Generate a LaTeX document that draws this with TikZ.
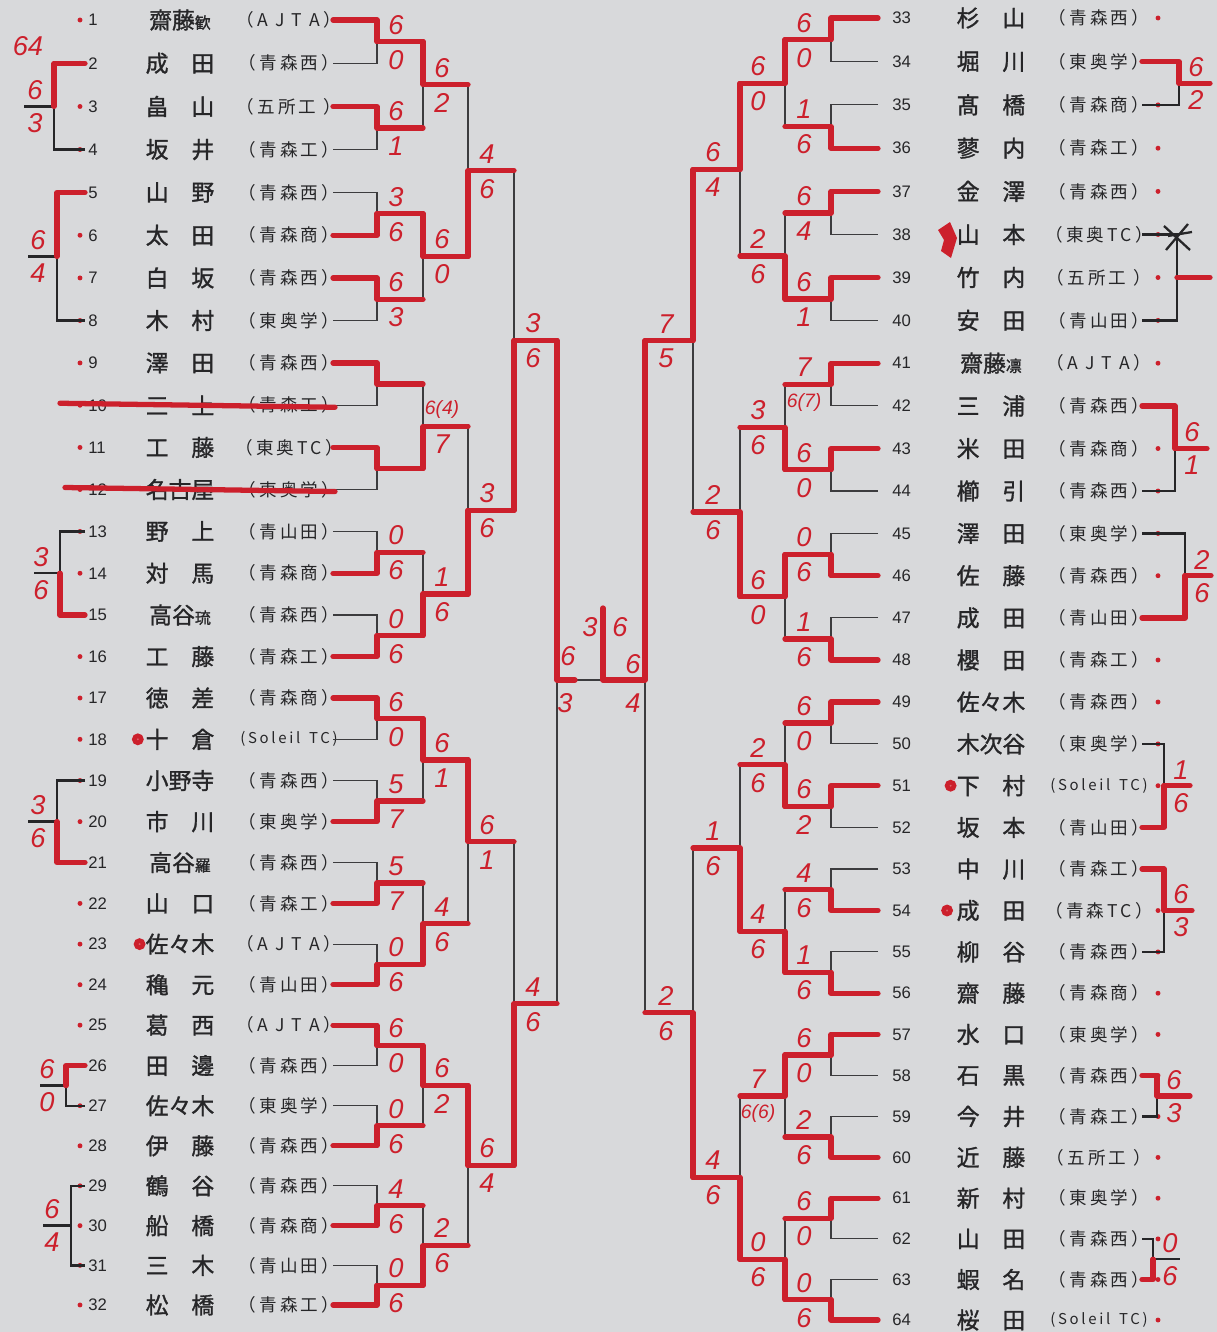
\documentclass[tikz,border=0pt]{standalone}
\usepackage{fontspec}
\usepackage{xcolor}
\usepackage{tikz}
\usetikzlibrary{positioning, calc}
\setmainfont{Liberation Sans}
\newfontfamily\jpfont[FakeBold=1.3]{Noto Sans CJK JP}
\newfontfamily\clubfont[LetterSpace=18]{Noto Sans CJK JP}
\definecolor{paper}{RGB}{216,217,219}
\definecolor{pen}{RGB}{204,32,44}
\definecolor{ink}{RGB}{38,38,40}
\definecolor{printgray}{RGB}{60,60,62}
\newcommand{\smk}[1]{{\fontsize{9}{9}\selectfont #1}}
\newcommand{\tb}[1]{{\fontsize{11}{11}\selectfont #1}}
\newcommand{\soleil}{{\fontsize{8.5}{8.5}\selectfont (Soleil\hspace{5pt}TC)}}
\tikzset{
  line/.style={draw=printgray, line width=0.6pt},
  win/.style={draw=pen, line width=3pt, line cap=round, line join=round},
  arm/.style={draw=ink, line width=1.3pt},
  strike/.style={draw=pen, line width=3pt, line cap=round},
  num/.style={font=\fontsize{9.5}{9.5}\selectfont, anchor=west, inner sep=0pt, text=ink},
  pname/.style={font=\jpfont\fontsize{13}{13}\selectfont, inner sep=0pt, text=ink},
  club/.style={font=\clubfont\fontsize{10}{10}\selectfont, inner sep=0pt, text=ink},
  sc/.style={font=\itshape\fontsize{15.5}{15.5}\selectfont, inner sep=0pt, text=pen},
  dot/.style={circle, fill=pen, inner sep=0pt, minimum size=2.8pt},
  ring/.style={circle, draw=pen, fill=pen!70, line width=2.6pt, inner sep=0pt, minimum size=4pt}
}

\begin{document}
\begin{tikzpicture}[x=0.02cm, y=-0.02cm]
  \fill[paper] (0,0) rectangle (1217,1332);
  \useasboundingbox (0,0) rectangle (1217,1332);

  % Left half: players 1-32
  \foreach \i/\nm/\cl in {1/齋藤\smk{歓}/（A J T A）, 2/成　田/（青森西）,
      3/畠　山/（五所工 ）, 4/坂　井/（青森工）, 5/山　野/（青森西）,
      6/太　田/（青森商）, 7/白　坂/（青森西）, 8/木　村/（東奥学）,
      9/澤　田/（青森西）, 10/三　上/（青森工）, 11/工　藤/（東奥TC）,
      12/名古屋/（東奥学）, 13/野　上/（青山田）, 14/対　馬/（青森商）,
      15/高谷\smk{琉}/（青森西）, 16/工　藤/（青森工）, 17/徳　差/（青森商）,
      18/十　倉/\soleil, 19/小野寺/（青森西）, 20/市　川/（東奥学）,
      21/高谷\smk{羅}/（青森西）, 22/山　口/（青森工）, 23/佐々木/（A J T A）,
      24/穐　元/（青山田）, 25/葛　西/（A J T A）, 26/田　邊/（青森西）,
      27/佐々木/（東奥学）, 28/伊　藤/（青森西）, 29/鶴　谷/（青森西）,
      30/船　橋/（青森商）, 31/三　木/（青山田）, 32/松　橋/（青森工）} {
    \pgfmathsetmacro{\yy}{20+43.36*(\i-1)-0.0616*(\i-1)*(\i-1)}
    \coordinate (L\i) at (333,\yy);
    \coordinate (aL\i) at (85,\yy);
    \node[dot] (Ldot\i) at (80,\yy) {};
    \node[num] (Lnum\i) at (88,\yy) {\i};
    \node[pname] (Lname\i) at (180,\yy) {\nm};
    \node[club] (Lclub\i) at (289,\yy) {\cl};
  }

  % Right half: players 33-64
  \foreach \i/\nm/\cl in {33/杉　山/（青森西）, 34/堀　川/（東奥学）,
      35/髙　橋/（青森商）, 36/蓼　内/（青森工）, 37/金　澤/（青森西）,
      38/山　本/（東奥TC）, 39/竹　内/（五所工 ）, 40/安　田/（青山田）,
      41/齋藤\smk{凛}/（A J T A）, 42/三　浦/（青森西）, 43/米　田/（青森商）,
      44/櫛　引/（青森西）, 45/澤　田/（東奥学）, 46/佐　藤/（青森西）,
      47/成　田/（青山田）, 48/櫻　田/（青森工）, 49/佐々木/（青森西）,
      50/木次谷/（東奥学）, 51/下　村/\soleil, 52/坂　本/（青山田）,
      53/中　川/（青森工）, 54/成　田/（青森TC）, 55/柳　谷/（青森西）,
      56/齋　藤/（青森商）, 57/水　口/（東奥学）, 58/石　黒/（青森西）,
      59/今　井/（青森工）, 60/近　藤/（五所工 ）, 61/新　村/（東奥学）,
      62/山　田/（青森西）, 63/蝦　名/（青森西）, 64/桜　田/\soleil} {
    \pgfmathsetmacro{\yy}{18+43.55*(\i-33)-0.05*(\i-33)*(\i-33)}
    \coordinate (R\i) at (878,\yy);
    \coordinate (aR\i) at (1142,\yy);
    \node[num] (Rnum\i) at (892,\yy) {\i};
    \node[pname] (Rname\i) at (991,\yy) {\nm};
    \node[club] (Rclub\i) at (1099,\yy) {\cl};
    \node[dot] (Rdot\i) at (1158,\yy) {};
  }

  % Bracket, left
  \foreach \k in {1,...,16} {
    \pgfmathtruncatemacro{\a}{2*\k-1}
    \pgfmathtruncatemacro{\b}{2*\k}
    \coordinate (La\k) at ($(L\a)!.5!(L\b)+(44,0)$);
    \draw[line] (L\a) -| (La\k) |- (L\b);
  }
  \foreach \k in {1,...,8} {
    \pgfmathtruncatemacro{\a}{2*\k-1}
    \pgfmathtruncatemacro{\b}{2*\k}
    \coordinate (Lb\k) at ($(La\a)!.5!(La\b)+(46,0)$);
    \draw[line] (La\a) -| (Lb\k) |- (La\b);
  }
  \foreach \k in {1,...,4} {
    \pgfmathtruncatemacro{\a}{2*\k-1}
    \pgfmathtruncatemacro{\b}{2*\k}
    \coordinate (Lc\k) at ($(Lb\a)!.5!(Lb\b)+(45,0)$);
    \draw[line] (Lb\a) -| (Lc\k) |- (Lb\b);
  }
  \foreach \k in {1,2} {
    \pgfmathtruncatemacro{\a}{2*\k-1}
    \pgfmathtruncatemacro{\b}{2*\k}
    \coordinate (Ld\k) at ($(Lc\a)!.5!(Lc\b)+(46,0)$);
    \draw[line] (Lc\a) -| (Ld\k) |- (Lc\b);
  }

  % Bracket, right
  \foreach \k in {1,...,16} {
    \pgfmathtruncatemacro{\a}{31+2*\k}
    \pgfmathtruncatemacro{\b}{32+2*\k}
    \coordinate (Ra\k) at ($(R\a)!.5!(R\b)+(-47,0)$);
    \draw[line] (R\a) -| (Ra\k) |- (R\b);
  }
  \foreach \k in {1,...,8} {
    \pgfmathtruncatemacro{\a}{2*\k-1}
    \pgfmathtruncatemacro{\b}{2*\k}
    \coordinate (Rb\k) at ($(Ra\a)!.5!(Ra\b)+(-46,0)$);
    \draw[line] (Ra\a) -| (Rb\k) |- (Ra\b);
  }
  \foreach \k in {1,...,4} {
    \pgfmathtruncatemacro{\a}{2*\k-1}
    \pgfmathtruncatemacro{\b}{2*\k}
    \coordinate (Rc\k) at ($(Rb\a)!.5!(Rb\b)+(-45,0)$);
    \draw[line] (Rb\a) -| (Rc\k) |- (Rb\b);
  }
  \foreach \k in {1,2} {
    \pgfmathtruncatemacro{\a}{2*\k-1}
    \pgfmathtruncatemacro{\b}{2*\k}
    \coordinate (Rd\k) at ($(Rc\a)!.5!(Rc\b)+(-47,0)$);
    \draw[line] (Rc\a) -| (Rd\k) |- (Rc\b);
  }

  % Semifinals and final
  \coordinate (Le) at (557,680);
  \coordinate (Re) at (645,680);
  \coordinate (F) at (603,680);
  \coordinate (Ftop) at (603,608);
  \coordinate (Lstub) at (575,680);
  \draw[line] (Ld1) -| (Le) |- (Ld2);
  \draw[line] (Rd1) -| (Re) |- (Rd2);
  \draw[line] (Le) -- (Re);

  % Consolation brackets
  \foreach \r/\s/\dx/\tx/\id in {2/4/-31/-30/A, 5/8/-28/-29/B, 13/15/-25/-26/C,
      19/21/-28/-29/D, 26/27/-19/-26/E, 29/31/-14/-28/F} {
    \coordinate (sL\id) at ($(aL\r)!.5!(aL\s)+(\dx,0)$);
    \coordinate (tL\id) at ($(sL\id)+(\tx,0)$);
    \draw[arm] (aL\r) -| (sL\id) |- (aL\s);
    \draw[arm] (sL\id) -- (tL\id);
  }
  \foreach \r/\s/\dx/\tx/\ts/\id in {34/35/37/31/win/A, 38/40/35/33/win/B,
      42/44/33/32/win/C, 45/47/43/26/win/D, 50/52/22/26/win/E,
      53/55/22/28/win/F, 58/59/15/33/win/G, 62/63/11/27/arm/H} {
    \coordinate (sR\id) at ($(aR\r)!.5!(aR\s)+(\dx,0)$);
    \coordinate (tR\id) at ($(sR\id)+(\tx,0)$);
    \draw[arm] (aR\r) -| (sR\id) |- (aR\s);
    \draw[\ts] (sR\id) -- (tR\id);
  }
  \draw[arm] (1164,226) -- (1190,250) (1166,250) -- (1188,224) (1168,236) -- (1192,232);

  % Winners, left
  \foreach \c/\m/\p in {L1/La1/Lb1, L3/La2/Lb1, L6/La3/Lb2, L7/La4/Lb2,
      L9/La5/Lb3, L11/La6/Lb3, L14/La7/Lb4, L16/La8/Lb4, L17/La9/Lb5,
      L20/La10/Lb5, L22/La11/Lb6, L24/La12/Lb6, L25/La13/Lb7, L28/La14/Lb7,
      L30/La15/Lb8, L32/La16/Lb8,
      La1/Lb1/Lc1, La3/Lb2/Lc1, La6/Lb3/Lc2, La8/Lb4/Lc2,
      La9/Lb5/Lc3, La12/Lb6/Lc3, La13/Lb7/Lc4, La16/Lb8/Lc4,
      Lb2/Lc1/Ld1, Lb4/Lc2/Ld1, Lb5/Lc3/Ld2, Lb7/Lc4/Ld2,
      Lc2/Ld1/Le, Lc4/Ld2/Le}
    \draw[win] (\c) -| (\m) -- (\m -| \p);

  % Winners, right
  \foreach \c/\m/\p in {R33/Ra1/Rb1, R36/Ra2/Rb1, R37/Ra3/Rb2, R39/Ra4/Rb2,
      R41/Ra5/Rb3, R43/Ra6/Rb3, R46/Ra7/Rb4, R48/Ra8/Rb4, R49/Ra9/Rb5,
      R51/Ra10/Rb5, R54/Ra11/Rb6, R56/Ra12/Rb6, R57/Ra13/Rb7, R60/Ra14/Rb7,
      R61/Ra15/Rb8, R64/Ra16/Rb8,
      Ra1/Rb1/Rc1, Ra4/Rb2/Rc1, Ra6/Rb3/Rc2, Ra7/Rb4/Rc2,
      Ra10/Rb5/Rc3, Ra12/Rb6/Rc3, Ra13/Rb7/Rc4, Ra16/Rb8/Rc4,
      Rb1/Rc1/Rd1, Rb4/Rc2/Rd1, Rb6/Rc3/Rd2, Rb8/Rc4/Rd2,
      Rc1/Rd1/Re, Rc4/Rd2/Re}
    \draw[win] (\c) -| (\m) -- (\m -| \p);

  \draw[win] (Ld1) -| (Le) -- (Lstub);
  \draw[win] (Rd1) -| (Re);
  \draw[win] (Ftop) -- (F) -- (Re);

  \foreach \w/\id in {2/A, 5/B, 15/C, 21/D, 26/E}
    \draw[win] (aL\w) -| (sL\id);
  \foreach \w/\id in {34/A, 42/C, 47/D, 52/E, 53/F, 58/G, 63/H}
    \draw[win] (aR\w) -| (sR\id);

  % Walkovers
  \draw[strike] ($(L10)+(-273,-2)$) -- ($(L10)+(2,2)$);
  \draw[strike] ($(L12)+(-268,-2)$) -- ($(L12)+(2,2)$);

  % Marks by the names
  \node[ring, left=1pt of Lname18] (mk18) {};
  \node[ring, left=0pt of Lname23] (mk23) {};
  \node[ring, left=0pt of Rname51] (mk51) {};
  \node[ring, left=2pt of Rname54] (mk54) {};
  \fill[pen] (938,230) -- (950,222) -- (957,238) -- (951,258) -- (941,251) -- (944,240) -- cycle;

  % Scores, left
  \foreach \m/\u/\d in {La1/6/0, La2/6/1, La3/3/6, La4/6/3, La7/0/6, La8/0/6,
      La9/6/0, La10/5/7, La11/5/7, La12/0/6, La13/6/0, La14/0/6, La15/4/6, La16/0/6,
      Lb1/6/2, Lb2/6/0, Lb3/\tb{6(4)}/7, Lb4/1/6, Lb5/6/1, Lb6/4/6, Lb7/6/2, Lb8/2/6,
      Lc1/4/6, Lc2/3/6, Lc3/6/1, Lc4/6/4, Ld1/3/6, Ld2/4/6} {
    \node[sc] (u\m) at ($(\m)+(19,-17)$) {\u};
    \node[sc] (d\m) at ($(\m)+(19,18)$) {\d};
  }

  % Scores, right
  \foreach \m/\u/\d in {Ra1/6/0, Ra2/1/6, Ra3/6/4, Ra4/6/1, Ra5/7/\tb{6(7)}, Ra6/6/0,
      Ra7/0/6, Ra8/1/6, Ra9/6/0, Ra10/6/2, Ra11/4/6, Ra12/1/6, Ra13/6/0, Ra14/2/6,
      Ra15/6/0, Ra16/0/6,
      Rb1/6/0, Rb2/2/6, Rb3/3/6, Rb4/6/0, Rb5/2/6, Rb6/4/6, Rb7/7/\tb{6(6)}, Rb8/0/6,
      Rc1/6/4, Rc2/2/6, Rc3/1/6, Rc4/4/6, Rd1/7/5, Rd2/2/6} {
    \node[sc] (u\m) at ($(\m)+(-27,-17)$) {\u};
    \node[sc] (d\m) at ($(\m)+(-27,18)$) {\d};
  }

  % Scores, semifinals and final
  \node[sc] (uLe) at ($(Le)+(11,-24)$) {6};
  \node[sc] (dLe) at ($(Le)+(8,23)$) {3};
  \node[sc] (uRe) at ($(Re)+(-12,-16)$) {6};
  \node[sc] (dRe) at ($(Re)+(-12,23)$) {4};
  \node[sc] (fL) at (590,627) {3};
  \node[sc] (fR) at (620,627) {6};

  % Scores, consolation
  \foreach \id/\u/\d in {A/6/3, B/6/4, C/3/6, D/3/6, E/6/0, F/6/4} {
    \node[sc] (usL\id) at ($(sL\id)+(-19,-16)$) {\u};
    \node[sc] (dsL\id) at ($(sL\id)+(-19,17)$) {\d};
  }
  \node[sc] (extra64) at (28,46) {64};
  \foreach \id/\u/\d in {A/6/2, C/6/1, D/2/6, E/1/6, F/6/3, G/6/3, H/0/6} {
    \node[sc] (usR\id) at ($(sR\id)+(17,-16)$) {\u};
    \node[sc] (dsR\id) at ($(sR\id)+(17,17)$) {\d};
  }
\end{tikzpicture}
\end{document}
